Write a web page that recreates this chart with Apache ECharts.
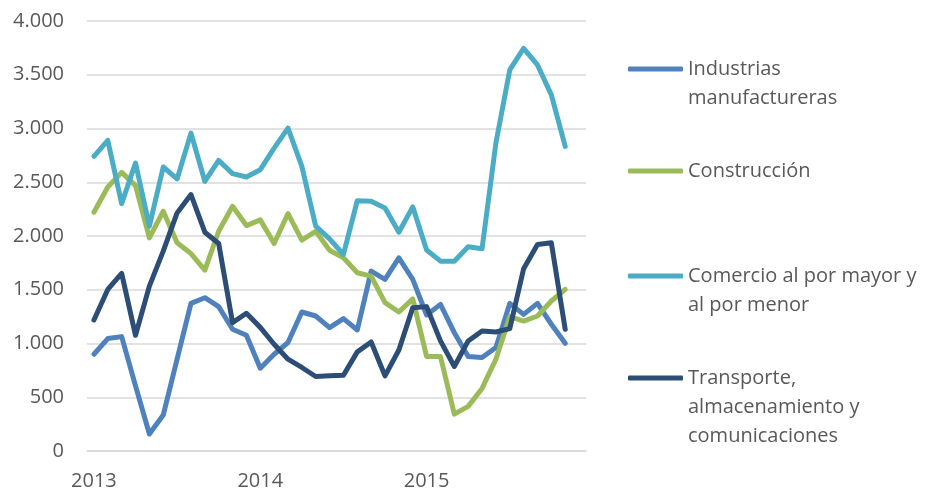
<!DOCTYPE html>
<html>
<head>
<meta charset="utf-8">
<script src="https://cdn.jsdelivr.net/npm/echarts@6/dist/echarts.min.js"></script>
<style>
  html, body { margin: 0; padding: 0; background: #fff; }
  #chart { width: 929px; height: 491px; }
</style>
</head>
<body>
<div id="chart"></div>
<script>
// meses ene-2013 .. dic-2015 (dic-2015 sin dato)
var months = [
  '2013-01','2013-02','2013-03','2013-04','2013-05','2013-06','2013-07','2013-08','2013-09','2013-10','2013-11','2013-12',
  '2014-01','2014-02','2014-03','2014-04','2014-05','2014-06','2014-07','2014-08','2014-09','2014-10','2014-11','2014-12',
  '2015-01','2015-02','2015-03','2015-04','2015-05','2015-06','2015-07','2015-08','2015-09','2015-10','2015-11','2015-12'
];
var yearLabels = ['2013', '2014', '2015'];
var yTicks = [0, 500, 1000, 1500, 2000, 2500, 3000, 3500, 4000];

var industrias = [900,1046,1064,606,158,334,854,1373,1426,1343,1132,1076,
  770,900,1009,1293,1256,1148,1231,1126,1673,1596,1797,1596,
  1265,1364,1101,879,869,962,1373,1271,1373,1179,1002,null];
var construccion = [2221,2456,2592,2469,1983,2230,1937,1837,1683,2044,2276,2097,
  2150,1930,2209,1961,2044,1868,1797,1658,1627,1380,1293,1415,
  880,879,343,415,582,854,1250,1209,1256,1395,1503,null];
var comercio = [2740,2889,2301,2679,2091,2642,2531,2957,2509,2703,2580,2549,
  2617,2818,3004,2648,2091,1974,1828,2329,2323,2261,2035,2271,
  1870,1766,1766,1900,1881,2865,3545,3746,3591,3313,2833,null];
var transporte = [1219,1503,1652,1076,1534,1859,2215,2385,2035,1930,1194,1281,
  1150,993,854,777,693,699,705,922,1014,699,940,1333,
  1343,1024,786,1024,1117,1107,1138,1695,1921,1937,1132,null];

var names = [
  'Industrias\nmanufactureras',
  'Construcción',
  'Comercio al por mayor y\nal por menor',
  'Transporte,\nalmacenamiento y\ncomunicaciones'
];
var colors = ['#4f81bd', '#9bbb59', '#4bacc6', '#2c4d75'];
var values = [industrias, construccion, comercio, transporte];

var FONT = 'Open Sans';
var TXT = '#595959';

var chart = echarts.init(document.getElementById('chart'));

// una leyenda por serie, el icono alineado con la primera linea del texto
var legendIconY = [69, 171, 276, 378];
var legends = names.map(function (n, i) {
  var lines = n.split('\n').length;
  var pad = '';
  for (var k = 1; k < lines; k++) pad += '\n';
  var total = lines * 2 - 1;
  return {
    data: [n],
    left: 628,
    top: legendIconY[i] - total * 29 / 2,
    padding: 0,
    icon: 'roundRect',
    itemWidth: 55,
    itemHeight: 5,
    itemGap: 5,
    selectedMode: false,
    formatter: function (name) { return pad + name; },
    textStyle: { fontFamily: FONT, fontSize: 20, color: TXT, lineHeight: 29 }
  };
});

var option = {
  backgroundColor: '#fff',
  animation: false,
  color: colors,
  grid: { left: 87, right: 343, top: 21, bottom: 39, containLabel: false },
  legend: legends,
  xAxis: {
    type: 'category',
    data: months,
    boundaryGap: true,
    axisLine: { show: true, lineStyle: { color: '#d9d9d9', width: 1.5 } },
    axisTick: { show: false },
    axisLabel: {
      interval: 0,
      margin: 20,
      fontFamily: FONT, fontSize: 20, color: TXT,
      formatter: function (v) {
        var y = v.slice(0, 4);
        return (v.slice(5) === '01' && yearLabels.indexOf(y) >= 0) ? y : '';
      }
    }
  },
  yAxis: {
    type: 'value',
    min: yTicks[0],
    max: yTicks[yTicks.length - 1],
    interval: 500,
    axisLine: { show: false },
    axisTick: { show: false },
    splitLine: { lineStyle: { color: '#d9d9d9', width: 1.5 } },
    axisLabel: {
      margin: 23,
      fontFamily: FONT, fontSize: 20, color: TXT,
      formatter: function (v) {
        return String(v).replace(/\B(?=(\d{3})+(?!\d))/g, '.');
      }
    }
  },
  series: names.map(function (n, i) {
    return {
      name: n,
      type: 'line',
      data: values[i],
      showSymbol: false,
      symbol: 'none',
      connectNulls: false,
      lineStyle: { width: 5, color: colors[i], cap: 'round', join: 'round' },
      itemStyle: { color: colors[i] }
    };
  })
};

chart.setOption(option);
</script>
</body>
</html>
